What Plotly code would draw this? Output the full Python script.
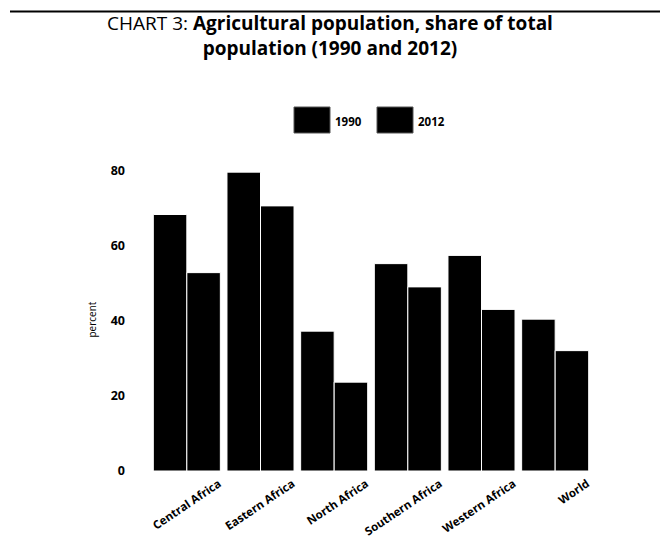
import plotly.graph_objects as go

regions = ["Central Africa", "Eastern Africa", "North Africa", "Southern Africa", "Western Africa", "World"]
share_1990 = [68.4, 79.7, 37.3, 55.3, 57.5, 40.5]
share_2012 = [52.9, 70.7, 23.7, 49.1, 43.1, 32.1]
series_names = ["1990", "2012"]
y_ticks = [0, 20, 40, 60, 80]

FONT = "Open Sans"
PL, PR, PT, PB = 150, 592, 168, 471  # plot area in pixels
PW, PH = PR - PL, PB - PT


def px_x(x):
    return (x - PL) / PW


def px_y(y):
    return (PB - y) / PH


fig = go.Figure()
for name, vals in zip(series_names, [share_1990, share_2012]):
    fig.add_trace(go.Bar(name=name, x=regions, y=vals, showlegend=False,
                         marker=dict(color="black", line=dict(color="white", width=1))))

# legend drawn as swatches + labels
shapes = [dict(type="line", xref="paper", yref="paper",
               x0=px_x(10), x1=px_x(660), y0=px_y(11.5), y1=px_y(11.5),
               line=dict(color="black", width=2))]
annotations = [dict(text="percent", xref="paper", yref="paper",
                    x=px_x(82), y=0.5, textangle=-90, showarrow=False,
                    font=dict(family=FONT, size=10, color="black"))]
swatch_left = [294, 377]
for name, left in zip(series_names, swatch_left):
    shapes.append(dict(type="rect", xref="paper", yref="paper",
                       x0=px_x(left), x1=px_x(left + 36), y0=px_y(133), y1=px_y(107),
                       fillcolor="black", line=dict(color="#555", width=1)))
    annotations.append(dict(text="<b>" + name + "</b>", xref="paper", yref="paper",
                            x=px_x(left + 39), y=px_y(121), xanchor="left", yanchor="middle",
                            showarrow=False, font=dict(family=FONT, size=11.5, color="black")))

fig.update_layout(
    width=660, height=540,
    margin=dict(l=PL, r=660 - PR, t=PT, b=540 - PB, autoexpand=False),
    paper_bgcolor="white", plot_bgcolor="white",
    barmode="group", bargap=0.09, bargroupgap=0,
    font=dict(family=FONT, color="black"),
    title=dict(
        text="CHART 3: <b>Agricultural population, share of total</b><br><b>population (1990 and 2012)</b>",
        x=0.5, xanchor="center", y=1 - 30 / 540, yanchor="middle",
        font=dict(family=FONT, size=19, color="black"),
    ),
    xaxis=dict(showline=False, showgrid=False, ticks="", tickangle=-34, automargin=False,
               ticklabelshift=32, ticklabelstandoff=3,
               tickfont=dict(family=FONT, size=11.5, color="black", weight="bold")),
    yaxis=dict(range=[0, 80.8], tickvals=y_ticks, showgrid=False, zeroline=False,
               showline=False, ticks="", ticklabelstandoff=24, automargin=False,
               tickfont=dict(family=FONT, size=12.5, color="black", weight="bold")),
    shapes=shapes,
    annotations=annotations,
)

fig.write_html("out.html")
